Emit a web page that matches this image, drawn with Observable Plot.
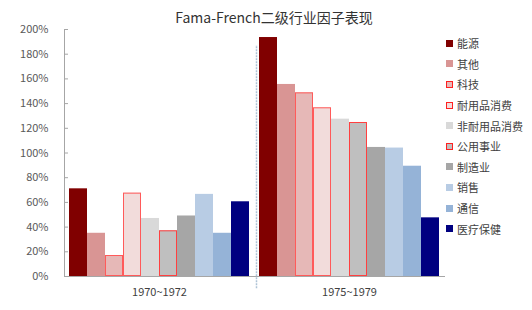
<!DOCTYPE html>
<html><head><meta charset="utf-8">
<script src="https://cdn.jsdelivr.net/npm/d3@7"></script>
<script src="https://cdn.jsdelivr.net/npm/@observablehq/plot@0.6"></script>
<style>
body{margin:0;background:#fff;}
#wrap{position:relative;width:532px;height:310px;overflow:hidden;font-family:"Noto Sans CJK SC","Noto Sans",sans-serif;}
#title{position:absolute;left:0;width:548px;top:7px;text-align:center;font-size:14px;line-height:20px;color:#333;}
#legend{position:absolute;left:446px;top:33px;}
.row{height:20.6px;display:flex;align-items:center;font-size:11px;color:#404040;}
.sw{width:7px;height:7px;margin-right:4px;box-sizing:border-box;}
</style></head>
<body><div id="wrap"><div id="title">Fama-French二级行业因子表现</div><div id="legend"></div></div>
<script>
const groups = ["1970~1972", "1975~1979"];
const industries = ["能源","其他","科技","耐用品消费","非耐用品消费","公用事业","制造业","销售","通信","医疗保健"];
const values7072 = [0.71, 0.35, 0.17, 0.675, 0.47, 0.37, 0.49, 0.665, 0.35, 0.605];
const values7579 = [1.935, 1.555, 1.487, 1.366, 1.274, 1.247, 1.045, 1.04, 0.893, 0.475];
const fills = ["#800000","#d99594","#e6b8b7","#f2dcdb","#d9d9d9","#bfbfbf","#a6a6a6","#b8cce4","#95b3d7","#000080"];
const strokes = [null,null,"#ff5a5a","#ff5a5a",null,"#ff4040",null,null,null,null];
const yTicks = [0,0.2,0.4,0.6,0.8,1.0,1.2,1.4,1.6,1.8,2.0];

const data = [];
groups.forEach((g, gi) => {
  const vals = gi === 0 ? values7072 : values7579;
  industries.forEach((ind, i) => data.push({group: g, industry: ind, value: vals[i], fill: fills[i], stroke: strokes[i]}));
});

const chart = Plot.plot({
  width: 532, height: 310,
  marginTop: 29, marginBottom: 34, marginLeft: 64, marginRight: 88,
  style: {fontFamily: '"Noto Sans CJK SC","Noto Sans",sans-serif', fontSize: "11px", color: "#595959", background: "transparent"},
  fx: {domain: groups, padding: 0, label: null, axis: null},
  x: {domain: industries, paddingInner: 0, paddingOuter: 0.22, axis: null},
  y: {domain: [0, 2], axis: null},
  color: {type: "identity"},
  marks: [
    Plot.barY(data, {fx: "group", x: "industry", y: "value", fill: "fill"}),
    Plot.barY(data.filter(d => d.stroke), {fx: "group", x: "industry", y: "value", fill: "none", stroke: "stroke", inset: 0.5}),
    Plot.frame({facet: "super", anchor: "left", stroke: "#a6a6a6"}),
    Plot.frame({facet: "super", anchor: "bottom", stroke: "#a6a6a6"}),
    Plot.axisY({ticks: yTicks, tickSize: 0, tickPadding: 16, tickFormat: d => Math.round(d * 100) + "%", fill: "#595959", label: null}),
    Plot.axisY({ticks: yTicks, tickSize: -4, text: null, stroke: "#a6a6a6", label: null}),
    Plot.axisFx({anchor: "bottom", tickSize: 0, tickPadding: 12, fill: "#404040", label: null}),
    Plot.ruleX([{g: groups[1], x: industries[0]}], {fx: "g", x: "x", dx: -12, y1: -0.1, y2: 1.87, stroke: "#aec3d6", strokeWidth: 1.5, strokeDasharray: "2,1"})
  ]
});
chart.style.position = "absolute";
chart.style.left = "0px";
chart.style.top = "0px";
document.getElementById("wrap").insertBefore(chart, document.getElementById("title"));

const legend = document.getElementById("legend");
industries.forEach((ind, i) => {
  const row = document.createElement("div");
  row.className = "row";
  const sw = document.createElement("div");
  sw.className = "sw";
  sw.style.background = fills[i];
  if (strokes[i]) sw.style.border = "1px solid #ff2020";
  row.appendChild(sw);
  const t = document.createElement("span");
  t.textContent = ind;
  row.appendChild(t);
  legend.appendChild(row);
});
</script></body></html>
